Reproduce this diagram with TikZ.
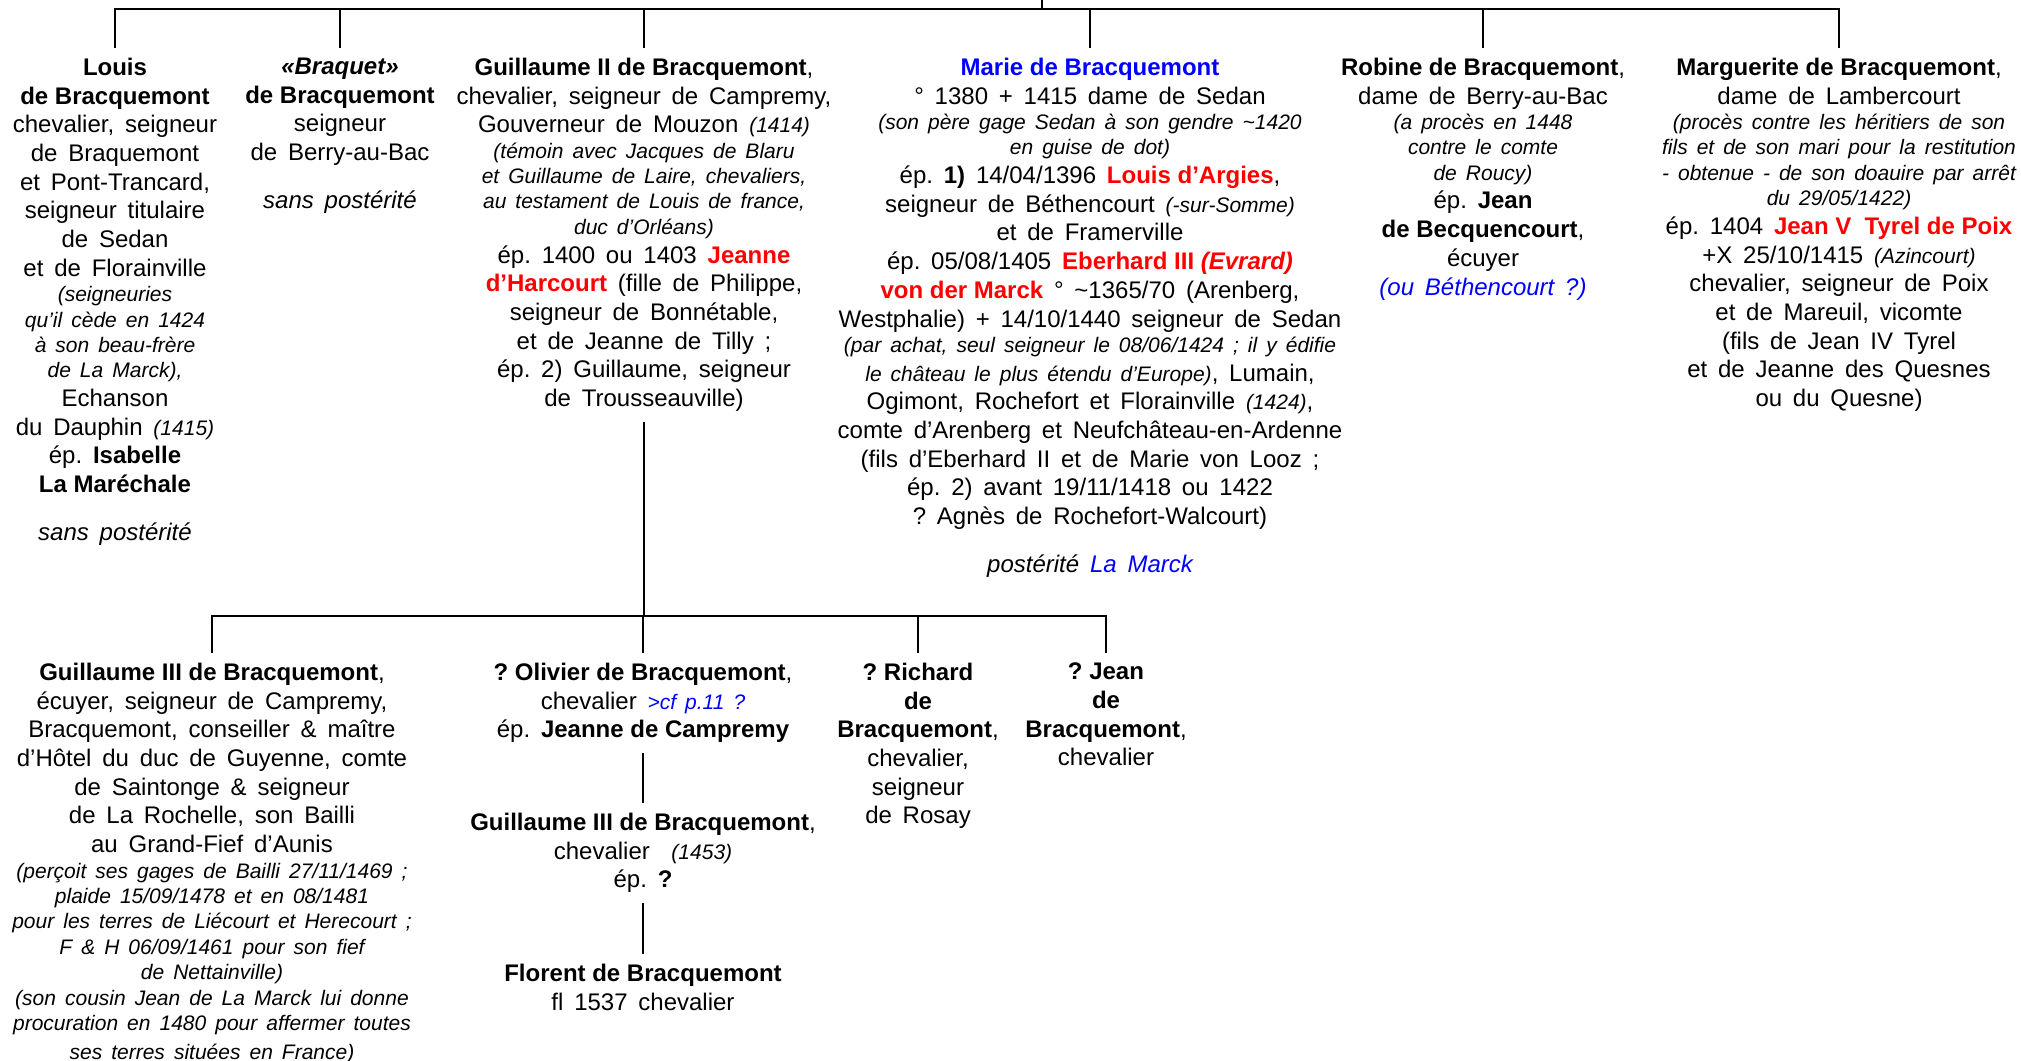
\documentclass[tikz,border=0pt]{standalone}
\usepackage{fontspec}
\setmainfont{Liberation Sans}
\usepackage{xcolor}
\usepackage{tikz}
\frenchspacing
\definecolor{namered}{RGB}{255,0,0}
\definecolor{linkblue}{RGB}{0,0,255}
\newcommand{\mainsz}{\fontsize{12}{14.35}\selectfont\upshape\spaceskip=0.45em\relax}
\newcommand{\notesz}{\fontsize{10.5}{12.7}\selectfont\itshape\spaceskip=0.43em\relax}
\newcommand{\smit}[1]{{\notesz #1}}
\newcommand{\nm}[1]{{\spaceskip=0pt\textbf{#1}}}
\newcommand{\redname}[1]{\nm{\textcolor{namered}{#1}}}
\tikzset{person/.style={align=flush center, anchor=north, text width=290pt, inner sep=0pt, outer ysep=5pt, font=\mainsz}}
\tikzset{kinline/.style={line width=0.9pt}}

\begin{document}
\begin{tikzpicture}[x=0.5pt,y=-0.5pt]
\useasboundingbox (0,0) rectangle (2021,1060);
\node[person] (louis) at (115,48) {\nm{Louis}\\ \nm{de Bracquemont}\\ chevalier, seigneur\\ de Braquemont\\ et Pont-Trancard,\\ seigneur titulaire\\ de Sedan\\ et de Florainville\\ \notesz (seigneuries\\ qu’il cède en 1424\\ à son beau-frère\\ de La Marck),\\ \mainsz Echanson\\ du Dauphin \smit{(1415)}\\ ép. \nm{Isabelle}\\ \nm{La Maréchale}\\[9.6pt] \textit{sans postérité}};
\node[person] (braquet) at (340,48) {\nm{\textit{«Braquet»}}\\ \nm{de Bracquemont}\\ seigneur\\ de Berry-au-Bac\\[9.6pt] \textit{sans postérité}};
\node[person] (guillaumeII) at (644,48) {\nm{Guillaume II de Bracquemont},\\ chevalier, seigneur de Campremy,\\ Gouverneur de Mouzon \smit{(1414)}\\ \notesz (témoin avec Jacques de Blaru\\ et Guillaume de Laire, chevaliers,\\ au testament de Louis de france,\\ duc d’Orléans)\\ \mainsz ép. 1400 ou 1403 \redname{Jeanne}\\ \redname{d’Harcourt} (fille de Philippe,\\ seigneur de Bonnétable,\\ et de Jeanne de Tilly ;\\ ép. 2) Guillaume, seigneur\\ de Trousseauville)};
\node[person] (marie) at (1090,48) {\nm{\textcolor{linkblue}{Marie de Bracquemont}}\\ ° 1380 + 1415 dame de Sedan\\ \notesz (son père gage Sedan à son gendre \textasciitilde1420\\ en guise de dot)\\ \mainsz ép. \nm{1)} 14/04/1396 \redname{Louis d’Argies},\\ seigneur de Béthencourt \smit{(-sur-Somme)}\\ et de Framerville\\ ép. 05/08/1405 \redname{Eberhard III \textit{(Evrard)}}\\ \redname{von der Marck} ° \textasciitilde1365/70 (Arenberg,\\ Westphalie) + 14/10/1440 seigneur de Sedan\\ \notesz (par achat, seul seigneur le 08/06/1424 ; il y édifie\\ le château le plus étendu d’Europe)\mainsz, Lumain,\\ Ogimont, Rochefort et Florainville \smit{(1424)},\\ comte d’Arenberg et Neufchâteau-en-Ardenne\\ (fils d’Eberhard II et de Marie von Looz ;\\ ép. 2) avant 19/11/1418 ou 1422\\ ? Agnès de Rochefort-Walcourt)\\[9.6pt] \textit{postérité \textcolor{linkblue}{La Marck}}};
\node[person] (robine) at (1483,48) {\nm{Robine de Bracquemont},\\ dame de Berry-au-Bac\\ \notesz (a procès en 1448\\ contre le comte\\ de Roucy)\\ \mainsz ép. \nm{Jean}\\ \nm{de Becquencourt},\\ écuyer\\ \textit{\textcolor{linkblue}{(ou Béthencourt ?)}}};
\node[person] (marguerite) at (1839,48) {\nm{Marguerite de Bracquemont},\\ dame de Lambercourt\\ \notesz (procès contre les héritiers de son\\ fils et de son mari pour la restitution\\ - obtenue - de son doauire par arrêt\\ du 29/05/1422)\\ \mainsz ép. 1404 \redname{Jean V\ \ Tyrel de Poix}\\ +X 25/10/1415 \smit{(Azincourt)}\\ chevalier, seigneur de Poix\\ et de Mareuil, vicomte\\ (fils de Jean IV Tyrel\\ et de Jeanne des Quesnes\\ ou du Quesne)};

\node[person] (guillaumeIIIa) at (212,653) {\nm{Guillaume III de Bracquemont},\\ écuyer, seigneur de Campremy,\\ Bracquemont, conseiller \& maître\\ d’Hôtel du duc de Guyenne, comte\\ de Saintonge \& seigneur\\ de La Rochelle, son Bailli\\ au Grand-Fief d’Aunis\\ \notesz (perçoit ses gages de Bailli 27/11/1469 ;\\ plaide 15/09/1478 et en 08/1481\\ pour les terres de Liécourt et Herecourt ;\\ F \& H 06/09/1461 pour son fief\\ de Nettainville)\\ (son cousin Jean de La Marck lui donne\\ procuration en 1480 pour affermer toutes\\ ses terres situées en France)};
\node[person] (olivier) at (643,653) {\nm{? Olivier de Bracquemont},\\ chevalier \smit{\textcolor{linkblue}{>cf p.11 ?}}\\ ép. \nm{Jeanne de Campremy}};
\node[person] (guillaumeIIIb) at (643,803) {\nm{Guillaume III de Bracquemont},\\ chevalier\ \ \smit{(1453)}\\ ép. \nm{?}};
\node[person] (florent) at (643,954) {\nm{Florent de Bracquemont}\\ fl 1537 chevalier};
\node[person] (richard) at (918,653) {\nm{? Richard}\\ \nm{de}\\ \nm{Bracquemont},\\ chevalier,\\ seigneur\\ de Rosay};
\node[person] (jean) at (1106,653) {\nm{? Jean}\\ \nm{de}\\ \nm{Bracquemont},\\ chevalier};

\coordinate (root) at (1042,0);
\coordinate (bus) at (0,9);
\coordinate (subbus) at (0,616);
\draw[kinline] (root) -- (root |- bus);
\draw[kinline] (louis.north) |- (marguerite.north |- bus) -- (marguerite.north);
\foreach \kid in {braquet,guillaumeII,marie,robine}
  \draw[kinline] (\kid.north) -- (\kid.north |- bus);
\draw[kinline] (guillaumeII.south) -- (guillaumeII.south |- subbus);
\draw[kinline] (guillaumeIIIa.north) |- (jean.north |- subbus) -- (jean.north);
\foreach \kid in {olivier,richard}
  \draw[kinline] (\kid.north) -- (\kid.north |- subbus);
\draw[kinline] (olivier.south) -- (guillaumeIIIb.north);
\draw[kinline] (guillaumeIIIb.south) -- (florent.north);
\end{tikzpicture}
\end{document}
